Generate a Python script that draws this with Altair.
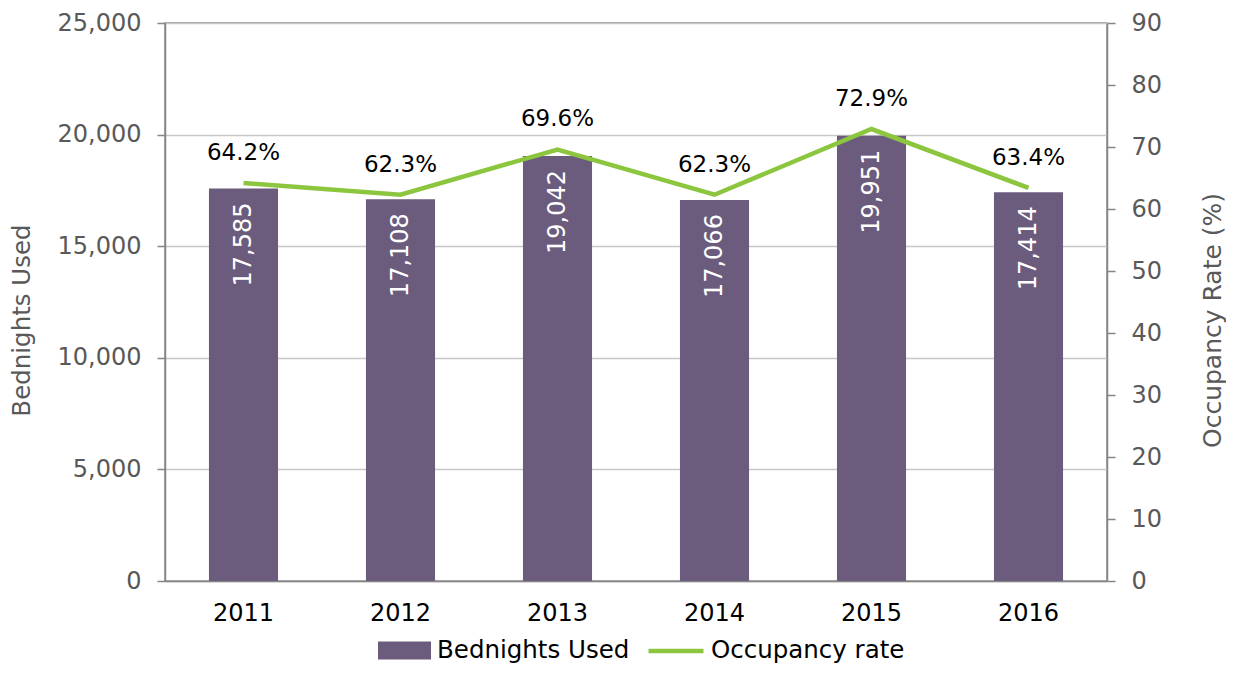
import altair as alt
import pandas as pd

years = ["2011", "2012", "2013", "2014", "2015", "2016"]
bednights = [17585, 17108, 19042, 17066, 19951, 17414]
occupancy = [64.2, 62.3, 69.6, 62.3, 72.9, 63.4]
left_ticks = [0, 5000, 10000, 15000, 20000, 25000]
right_ticks = [0, 10, 20, 30, 40, 50, 60, 70, 80, 90]

df = pd.DataFrame({"year": years, "bed": bednights, "occ": occupancy})

FONT = "DejaVu Sans"
PURPLE = "#6B5C7E"
GREEN = "#8CC63F"
AXIS = "#868686"
LABEL = "#595959"

x_enc = alt.X(
    "year:N",
    title=None,
    scale=alt.Scale(paddingInner=0.56, paddingOuter=0.28),
    axis=alt.Axis(labelAngle=0, ticks=False, labelColor="black", labelFontSize=24,
                  labelPadding=20, domainColor=AXIS, domainWidth=1.5, labelFont=FONT,
                  grid=False),
)

left_axis = alt.Axis(
    values=left_ticks, format=",.0f", title="Bednights Used", grid=True,
    gridColor="#C8C8C8", gridWidth=1.5, domainColor=AXIS, domainWidth=1.5,
    tickColor=AXIS, tickSize=8, tickWidth=1.5, labelColor=LABEL, labelFontSize=24,
    labelFont=FONT, labelPadding=16, titleColor=LABEL, titleFontSize=24.5,
    titleFont=FONT, titleFontWeight="normal", titleX=-143, titleY=297,
    titleAngle=270, titleBaseline="middle", titleAlign="center",
)
right_axis = alt.Axis(
    orient="right", values=right_ticks, format="d", title="Occupancy Rate (%)", grid=False,
    domainColor=AXIS, domainWidth=1.5, tickColor=AXIS, tickSize=8, tickWidth=1.5,
    labelColor=LABEL, labelFontSize=24, labelFont=FONT, labelPadding=16,
    titleColor=LABEL, titleFontSize=25, titleFont=FONT, titleFontWeight="normal",
    titleX=105, titleY=297, titleAngle=270, titleBaseline="middle", titleAlign="center",
)

y_bed = alt.Y("bed:Q", scale=alt.Scale(domain=[0, 25000]), axis=left_axis)
y_occ = alt.Y("occ:Q", scale=alt.Scale(domain=[0, 90]), axis=right_axis)

base = alt.Chart(df)

bars = base.mark_bar(color=PURPLE).transform_calculate(
    series="'Bednights Used'"
).encode(
    x=x_enc,
    y=y_bed,
    color=alt.Color(
        "series:N",
        scale=alt.Scale(domain=["Bednights Used"], range=[PURPLE]),
        legend=alt.Legend(
            title=None, orient="none", legendX=213, legendY=601, padding=0,
            symbolType="M-1,-0.34H1V0.34H-1Z", symbolSize=2809, symbolStrokeWidth=0,
            symbolOpacity=1, labelFontSize=24.5, labelFont=FONT, labelColor="black",
            labelOffset=6, labelLimit=400,
        ),
    ),
)

bar_text = base.mark_text(
    angle=270, align="right", baseline="middle", dx=-14, color="white",
    fontSize=24, font=FONT,
).encode(x=x_enc, y=y_bed, text=alt.Text("bed:Q", format=",.0f"))

line = base.mark_line(strokeWidth=4.5).transform_calculate(
    series="'Occupancy rate'"
).encode(
    x=x_enc,
    y=y_occ,
    color=alt.Color(
        "series:N",
        scale=alt.Scale(domain=["Occupancy rate"], range=[GREEN]),
        legend=alt.Legend(
            title=None, orient="none", legendX=481, legendY=598, padding=0,
            symbolType="stroke", symbolSize=3025, symbolStrokeWidth=4.5,
            labelFontSize=24.5, labelFont=FONT, labelColor="black", labelOffset=5,
            labelLimit=400,
        ),
    ),
)

pct_text = base.transform_calculate(
    label="format(datum.occ, '.1f') + '%'"
).mark_text(dy=-30, fontSize=23, font=FONT, color="black").encode(
    x=x_enc, y=y_occ, text="label:N"
)

left = alt.layer(bars, bar_text)
right = alt.layer(line, pct_text)

chart = (
    alt.layer(left, right)
    .resolve_scale(y="independent", color="independent")
    .properties(
        width=942, height=558,
        autosize=alt.AutoSizeParams(type="none"),
        padding={"left": 157, "top": 15, "right": 119, "bottom": 86},
        background="white",
    )
    .configure_view(stroke=AXIS, strokeWidth=1.5)
)

chart.save("out.html", embed_options={"renderer": "svg", "actions": False})
